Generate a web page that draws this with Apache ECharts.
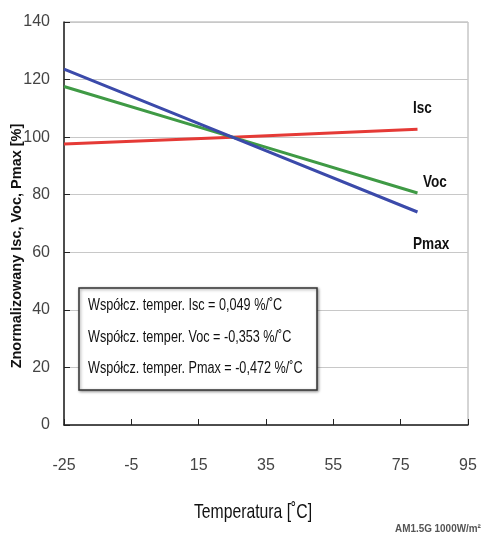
<!DOCTYPE html>
<html><head><meta charset="utf-8">
<script src="https://cdn.jsdelivr.net/npm/echarts@6/dist/echarts.min.js"></script>
<style>html,body{margin:0;padding:0;background:#fff}#c{width:481px;height:538px}</style>
</head><body><div id="c"></div>
<script>
const temps = [-25, 25, 80];
const isc = [97.6, 100, 102.7];
const voc = [117.6, 100, 80.6];
const pmax = [123.6, 100, 74.0];
const xTicks = [-25, -5, 15, 35, 55, 75, 95];
const coefLines = [
  'Współcz. temper. Isc = 0,049 %/˚C',
  'Współcz. temper. Voc = -0,353 %/˚C',
  'Współcz. temper. Pmax = -0,472 %/˚C'
];
const seriesNames = ['Isc', 'Voc', 'Pmax'];
const xTitle = 'Temperatura [˚C]';
const yTitle = 'Znormalizowany Isc, Voc, Pmax [%]';
const note = 'AM1.5G 1000W/m²';
const sans = "'Liberation Sans',Arial,sans-serif";

const chart = echarts.init(document.getElementById('c'));
const pts = a => temps.map((t, i) => [t, a[i]]);
const txt = (t, x, y, size, weight, sx, extra) => Object.assign({
  type: 'text', x: x, y: y, scaleX: sx, z: 100,
  style: {text: t, fontSize: size, fontWeight: weight, fill: '#111', fontFamily: sans}
}, extra || {});
chart.setOption({
  animation: false,
  grid: {left: 64, right: 13, top: 22, bottom: 113, show: true, borderColor: '#aaa', borderWidth: 1, outerBoundsMode: 'none', containLabel: false},
  xAxis: {
    type: 'value', min: -25, max: 95,
    axisLine: {onZero: false, lineStyle: {color: '#222', width: 1.5}},
    axisTick: {inside: true, length: 6, customValues: xTicks, lineStyle: {color: '#222'}},
    axisLabel: {customValues: xTicks, margin: 33, color: '#444', fontSize: 16, fontFamily: sans},
    splitLine: {show: false}
  },
  yAxis: {
    type: 'value', min: 0, max: 140, interval: 20,
    axisLine: {show: true, onZero: false, lineStyle: {color: '#222', width: 1.5}},
    axisTick: {show: true, inside: true, length: 6, lineStyle: {color: '#222'}},
    axisLabel: {margin: 14, color: '#444', fontSize: 16, fontFamily: sans},
    splitLine: {show: true, lineStyle: {color: '#c8c8c8', width: 1}}
  },
  series: [
    {name: seriesNames[0], type: 'line', data: pts(isc), symbol: 'none', lineStyle: {color: '#e53a36', width: 3}},
    {name: seriesNames[1], type: 'line', data: pts(voc), symbol: 'none', lineStyle: {color: '#3f9a45', width: 3}},
    {name: seriesNames[2], type: 'line', data: pts(pmax), symbol: 'none', lineStyle: {color: '#3b4aaa', width: 3}}
  ],
  graphic: [
    txt(seriesNames[0], 413, 100, 17, 'bold', 0.8),
    txt(seriesNames[1], 423, 174, 17, 'bold', 0.8),
    txt(seriesNames[2], 413, 236, 17, 'bold', 0.8),
    {type: 'rect', x: 79, y: 288, z: 90, shape: {width: 238, height: 102},
     style: {fill: '#fff', stroke: '#333', lineWidth: 1.5, shadowBlur: 3, shadowColor: 'rgba(0,0,0,0.4)', shadowOffsetX: 1, shadowOffsetY: 1}},
    txt(coefLines[0], 88, 298, 16, 'normal', 0.79),
    txt(coefLines[1], 88, 330, 16, 'normal', 0.79),
    txt(coefLines[2], 88, 361, 16, 'normal', 0.79),
    txt(xTitle, 253, 512, 21, 'normal', 0.75, {style: {text: xTitle, fontSize: 21, fill: '#111', fontFamily: sans, align: 'center', verticalAlign: 'middle'}}),
    txt(yTitle, 17, 246, 14.5, 'bold', 1, {rotation: Math.PI / 2, style: {text: yTitle, fontSize: 14.5, fontWeight: 'bold', fill: '#111', fontFamily: sans, align: 'center', verticalAlign: 'middle'}}),
    txt(note, 395, 523, 11, 'bold', 0.9, {style: {text: note, fontSize: 11, fontWeight: 'bold', fill: '#555', fontFamily: sans}})
  ]
});
</script></body></html>
